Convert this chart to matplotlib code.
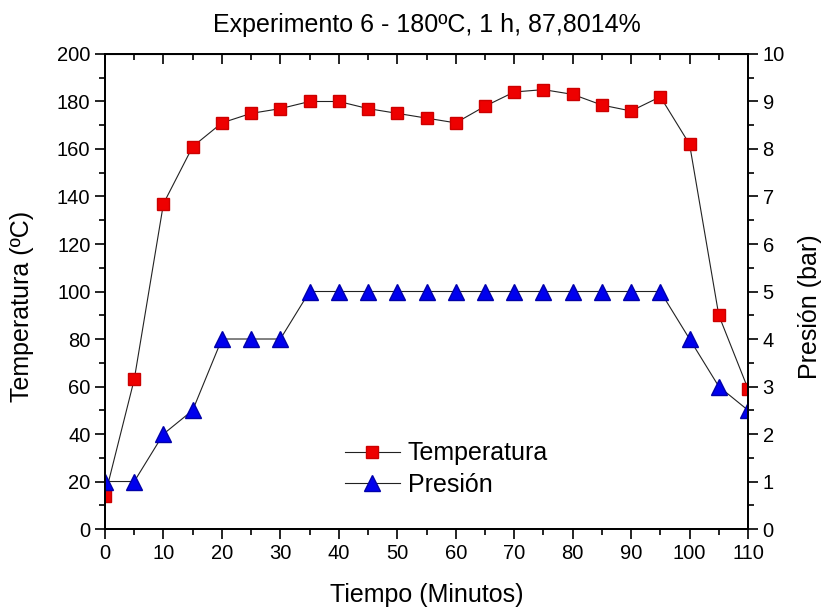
import matplotlib.pyplot as plt
from matplotlib.ticker import MultipleLocator

plt.rcParams['font.family'] = ['Liberation Sans', 'DejaVu Sans']

# datos del experimento 6
tiempo = [0, 5, 10, 15, 20, 25, 30, 35, 40, 45, 50, 55, 60, 65, 70, 75, 80, 85, 90, 95, 100, 105, 110]
temperatura = [14, 63, 137, 161, 171, 175, 177, 180, 180, 177, 175, 173, 171, 178, 184, 185, 183, 178.5, 176, 182, 162, 90, 59]
presion = [1, 1, 2, 2.5, 4, 4, 4, 5, 5, 5, 5, 5, 5, 5, 5, 5, 5, 5, 5, 5, 4, 3, 2.5]

fig = plt.figure(figsize=(8.23, 6.08), dpi=100)
ax1 = fig.add_axes([0.1276, 0.1299, 0.7813, 0.7813])
ax2 = ax1.twinx()

l1, = ax1.plot(tiempo, temperatura, color='#222222', lw=0.8, marker='s', ms=9,
               mfc='#ee0000', mec='#cc0000', label='Temperatura')
l2, = ax2.plot(tiempo, presion, color='#222222', lw=0.8, marker='^', ms=11,
               mfc='#0000ee', mec='#0000aa', label='Presión')

ax1.set_xlim(0, 110)
ax1.set_ylim(0, 200)
ax2.set_ylim(0, 10)

ax1.xaxis.set_major_locator(MultipleLocator(10))
ax1.xaxis.set_minor_locator(MultipleLocator(5))
ax1.yaxis.set_major_locator(MultipleLocator(20))
ax1.yaxis.set_minor_locator(MultipleLocator(10))
ax2.yaxis.set_major_locator(MultipleLocator(1))
ax2.yaxis.set_minor_locator(MultipleLocator(0.5))

ax1.tick_params(axis='both', which='major', direction='out', length=7, width=1.2, labelsize=14.5)
ax1.tick_params(axis='both', which='minor', direction='out', length=4, width=1.2)
ax1.tick_params(axis='x', which='both', top=False)
ax2.tick_params(axis='y', which='major', direction='out', length=7, width=1.2, labelsize=14.5)
ax2.tick_params(axis='y', which='minor', direction='out', length=4, width=1.2)
for s in ax1.spines.values():
    s.set_linewidth(1.3)
for s in ax2.spines.values():
    s.set_linewidth(1.3)

# ticks del eje superior hacia adentro
sec = ax1.secondary_xaxis('top')
sec.xaxis.set_major_locator(MultipleLocator(10))
sec.xaxis.set_minor_locator(MultipleLocator(5))
sec.tick_params(which='major', direction='in', length=7, width=1.2, labeltop=False)
sec.tick_params(which='minor', direction='in', length=4, width=1.2)

ax1.set_xlabel('Tiempo (Minutos)', fontsize=18, labelpad=15)
ax1.set_ylabel('Temperatura (ºC)', fontsize=18)
ax2.set_ylabel('Presión (bar)', fontsize=18)
ax1.yaxis.set_label_coords(-0.11, 0.469)
ax2.yaxis.set_label_coords(1.077, 0.469)
ax1.set_title('Experimento 6 - 180ºC, 1 h, 87,8014%', fontsize=18, pad=16)

ax2.legend(handles=[l1, l2], loc='center left', bbox_to_anchor=(0.338, 0.126), frameon=False,
           fontsize=18, handlelength=2.2, handletextpad=0.32, labelspacing=0.3)

fig.savefig('out.png', dpi=100)
